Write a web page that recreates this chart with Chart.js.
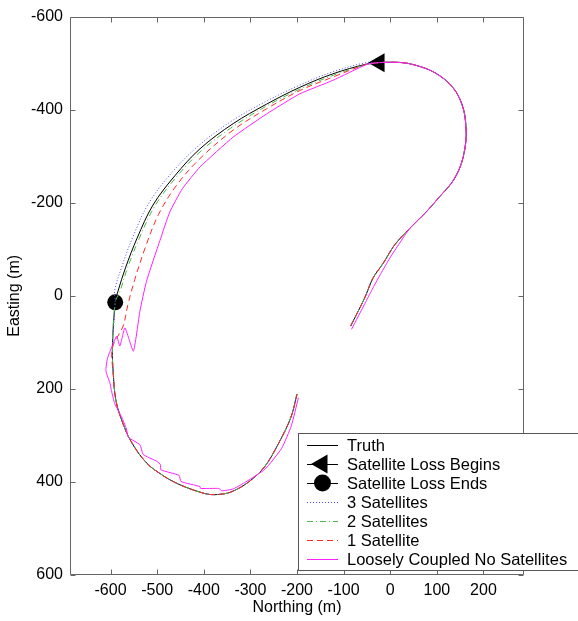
<!DOCTYPE html>
<html><head><meta charset="utf-8">
<script src="https://cdn.jsdelivr.net/npm/chart.js@4.4.1/dist/chart.umd.min.js"></script>
<style>html,body{margin:0;padding:0;background:#fff}#wrap{width:578px;height:621px;position:relative}</style>
</head><body><div id="wrap"><canvas id="c" width="578" height="621"></canvas></div>
<script>
const FONT = "'Liberation Sans', Arial, Helvetica, sans-serif";

// Tick labels
const xTicks = [-600,-500,-400,-300,-200,-100,0,100,200];
const yTicks = [-600,-400,-200,0,200,400,600];
const xTitle = 'Northing (m)';
const yTitle = 'Easting (m)';
const legendLabels = ['Truth','Satellite Loss Begins','Satellite Loss Ends','3 Satellites','2 Satellites','1 Satellite','Loosely Coupled No Satellites'];

// Truth: right-hand loop, from start to where satellite loss begins
const truthLoopN = [-85,-55,-37,-15,10,42,78,106,132,148,157,162,163,160,153,142,126,106,85,63,35,6,-24];
const truthLoopE = [65,5,-38,-70,-110,-145,-181,-213,-243,-272,-300,-330,-352,-388,-414,-437,-457,-473,-485,-493,-500,-502,-501];
// Truth: upper-left arc during satellite loss
const truthArcN = [-51,-123,-194,-265,-337,-408,-462,-509,-543,-568,-584];
const truthArcE = [-498,-477,-448,-412,-370,-316,-258,-195,-124,-60,-10];
// Markers
const lossBeginN = [-24];
const lossBeginE = [-501];
const lossEndN = [-590];
const lossEndE = [14];
// Truth: bottom loop after satellites return
const truthBottomN = [-596,-594,-589,-578,-556,-522,-488,-464,-437,-408,-387,-360,-340,-305,-270,-240,-213,-200];
const truthBottomE = [112,170,222,262,313,360,386,400,412,422,427,426,421,401,368,318,261,211];

// 3 satellites (arc portion)
const sat3ArcN = [-52,-124,-196,-268,-341,-413,-470,-518,-552,-576,-591];
const sat3ArcE = [-501,-481,-452,-417,-375,-321,-263,-199,-127,-62,-12];
// 2 satellites (arc portion)
const sat2ArcN = [-51,-122,-192,-263,-334,-404,-459,-505,-539,-564,-580];
const sat2ArcE = [-497,-474,-445,-409,-366,-313,-255,-193,-122,-59,-9];
// 1 satellite (arc portion, overshoots past loss end)
const sat1ArcN = [-52,-123,-194,-265,-337,-408,-458,-497,-525,-548,-563,-573];
const sat1ArcE = [-497,-470,-441,-402,-356,-295,-238,-175,-105,-35,20,65];
// Loosely coupled, no satellites
const looseLoopN = [-83,-52,-37,-20,-1,20,42,78,106,132,148,157,162,163,160,153,142,126,106,85,63,35,6,-24];
const looseLoopE = [72,12,-17,-48,-81,-113,-145,-181,-213,-243,-272,-300,-330,-352,-388,-414,-437,-457,-473,-485,-493,-500,-502,-501];
const looseArcN = [-51,-123,-194,-265,-337,-408,-446,-473,-494,-523,-537,-551];
const looseArcE = [-497,-463,-434,-391,-341,-277,-230,-180,-119,-31,33,119];
const looseZigN = [-569,-580,-587,-601,-607,-610,-601,-598,-591,-576,-566];
const looseZigE = [69,108,87,119,136,161,189,204,232,261,286];
const looseBottomN = [-562,-537,-530,-500,-493,-492,-453,-449,-408,-407,-368,-361,-337,-310,-269,-233,-212,-197];
const looseBottomE = [304,320,341,356,363,374,386,399,410,414,414,419,415,400,373,328,279,219];

const pts = (n, e) => n.map((v, i) => ({x: v, y: e[i]}));

const truthData = [...pts(truthLoopN,truthLoopE), ...pts(truthArcN,truthArcE), ...pts(lossEndN,lossEndE), ...pts(truthBottomN,truthBottomE)];
const sat3Data = [...pts(truthLoopN,truthLoopE), ...pts(sat3ArcN,sat3ArcE), ...pts(lossEndN,lossEndE), ...pts(truthBottomN,truthBottomE)];
const sat2Data = [...pts(truthLoopN,truthLoopE), ...pts(sat2ArcN,sat2ArcE), ...pts(lossEndN,lossEndE), ...pts(truthBottomN,truthBottomE)];
const sat1Data = [...pts(truthLoopN,truthLoopE), ...pts(sat1ArcN,sat1ArcE), ...pts(truthBottomN,truthBottomE)];
const looseData = [...pts(looseLoopN,looseLoopE), ...pts(looseArcN,looseArcE), ...pts(looseZigN,looseZigE), ...pts(looseBottomN,looseBottomE)];

const C_TRUTH = '#000000', C3 = '#4a4aff', C2 = '#4cb84c', C1 = '#ff2a2a', CL = '#ff20ff';
const D3 = [1,2], D2 = [6,3,1,3], D1 = [6,4];

const line = (label, data, color, dash, order, tension) => ({
  label, data, showLine: true, borderColor: color, borderWidth: 1, borderDash: dash,
  pointRadius: 0, pointHoverRadius: 0, fill: false, tension, order
});

const framePlugin = {
  id: 'frame',
  afterDatasetsDraw(chart) {
    const {ctx, chartArea: a, scales: {x, y}} = chart;
    ctx.save();
    ctx.strokeStyle = '#666'; ctx.lineWidth = 1; ctx.setLineDash([]);
    const L = Math.round(a.left) + 0.5, R = Math.round(a.right) - 0.5, T = Math.round(a.top) + 0.5, B = Math.round(a.bottom) - 0.5;
    ctx.beginPath(); ctx.rect(L, T, R - L, B - T); ctx.stroke();
    ctx.beginPath();
    for (const v of xTicks) { const p = Math.round(x.getPixelForValue(v)) + 0.5; ctx.moveTo(p, B); ctx.lineTo(p, B - 5); ctx.moveTo(p, T); ctx.lineTo(p, T + 5); }
    for (const v of yTicks) { const p = Math.round(y.getPixelForValue(v)) + 0.5; ctx.moveTo(L, p); ctx.lineTo(L + 5, p); ctx.moveTo(R, p); ctx.lineTo(R - 5, p); }
    ctx.stroke();
    ctx.fillStyle = '#000'; ctx.font = '16px ' + FONT; ctx.textAlign = 'center'; ctx.textBaseline = 'middle';
    ctx.fillText(xTitle, (a.left + a.right) / 2, 608);
    ctx.translate(15, (a.top + a.bottom) / 2); ctx.rotate(-Math.PI / 2); ctx.fillText(yTitle, 0, 0);
    ctx.restore();
  },
  afterDraw(chart) {
    const ctx = chart.ctx;
    ctx.save();
    ctx.fillStyle = '#fff'; ctx.strokeStyle = '#555'; ctx.lineWidth = 1; ctx.setLineDash([]);
    ctx.fillRect(298.5, 433.5, 300, 137); ctx.strokeRect(298.5, 433.5, 300, 137);
    const styles = [
      {c: C_TRUTH, d: []}, {c: C_TRUTH, d: [], m: 'tri'}, {c: C_TRUTH, d: [], m: 'circ'},
      {c: C3, d: D3}, {c: C2, d: D2}, {c: C1, d: D1}, {c: CL, d: []}
    ];
    legendLabels.forEach((t, i) => {
      const yy = 445 + i * 19;
      const s = styles[i];
      ctx.strokeStyle = s.c; ctx.setLineDash(s.d); ctx.lineWidth = 1;
      ctx.beginPath(); ctx.moveTo(307, yy + 0.5); ctx.lineTo(338, yy + 0.5); ctx.stroke();
      ctx.setLineDash([]); ctx.fillStyle = '#000';
      if (s.m === 'tri') {
        ctx.beginPath(); ctx.moveTo(311, yy); ctx.lineTo(327.5, yy - 9.5); ctx.lineTo(327.5, yy + 9.5); ctx.closePath(); ctx.fill();
      } else if (s.m === 'circ') {
        ctx.beginPath(); ctx.arc(322.5, yy, 8.5, 0, Math.PI * 2); ctx.fill();
      }
      ctx.fillStyle = '#000'; ctx.font = '16.5px ' + FONT; ctx.textAlign = 'left'; ctx.textBaseline = 'middle';
      ctx.fillText(t, 347, yy + 1);
    });
    ctx.restore();
  }
};

new Chart(document.getElementById('c'), {
  type: 'scatter',
  data: { datasets: [
    line(legendLabels[0], truthData, C_TRUTH, [], 6, 0.35),
    { label: legendLabels[1], data: pts(lossBeginN, lossBeginE), pointStyle: 'triangle', pointRotation: -90, pointRadius: 11, backgroundColor: '#000', borderColor: '#000', borderWidth: 0, showLine: false, order: 5 },
    { label: legendLabels[2], data: pts(lossEndN, lossEndE), pointStyle: 'circle', pointRadius: 8, backgroundColor: '#000', borderColor: '#000', borderWidth: 0, showLine: false, order: 5 },
    line(legendLabels[3], sat3Data, C3, D3, 4, 0.35),
    line(legendLabels[4], sat2Data, C2, D2, 3, 0.35),
    line(legendLabels[5], sat1Data, C1, D1, 2, 0.35),
    line(legendLabels[6], looseData, CL, [], 1, 0.15)
  ]},
  options: {
    responsive: false, animation: false, devicePixelRatio: 1,
    layout: { padding: { top: 14, right: 54, left: 0, bottom: 0 } },
    plugins: { legend: { display: false }, tooltip: { enabled: false } },
    scales: {
      x: {
        type: 'linear', position: 'bottom', min: -687, max: 287,
        afterBuildTicks: s => { s.ticks = xTicks.map(v => ({value: v})); },
        afterFit: s => { s.height = 46; },
        grid: { display: false, drawTicks: false }, border: { display: false },
        ticks: { color: '#000', font: { family: FONT, size: 16 }, padding: 6, maxRotation: 0, autoSkip: false, callback: v => String(v) }
      },
      y: {
        type: 'linear', position: 'left', reverse: true, min: -600, max: 600,
        afterBuildTicks: s => { s.ticks = yTicks.map(v => ({value: v})); },
        afterFit: s => { s.width = 70; },
        grid: { display: false, drawTicks: false }, border: { display: false },
        ticks: { color: '#000', font: { family: FONT, size: 16 }, padding: 7, autoSkip: false, callback: v => String(v) }
      }
    }
  },
  plugins: [framePlugin]
});
</script></body></html>
